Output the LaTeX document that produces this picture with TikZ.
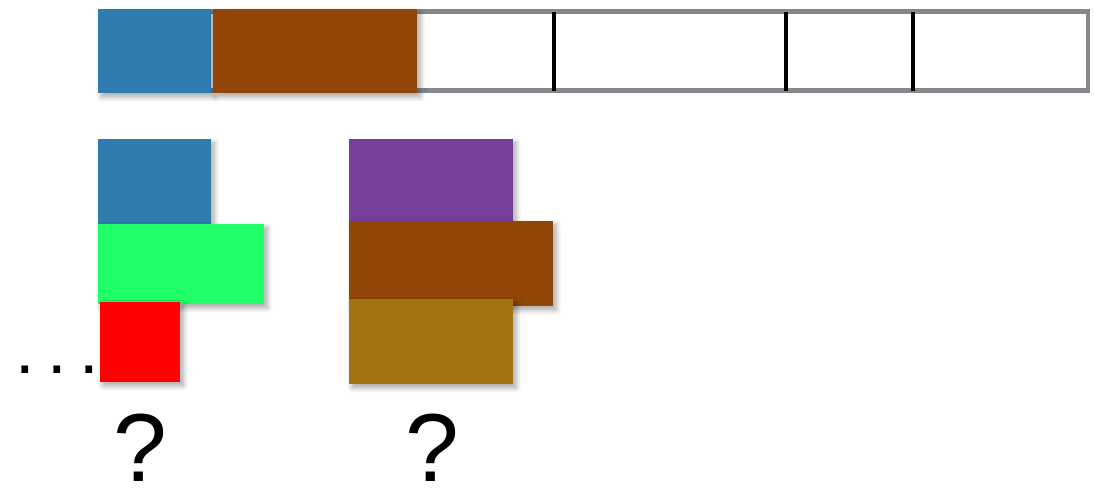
\documentclass[tikz,border=0pt]{standalone}
\usepackage{fontspec}
\setmainfont{Liberation Sans}
\usetikzlibrary{shadows.blur}
\definecolor{tileblue}{HTML}{2F7DAE}
\definecolor{tilebrown}{HTML}{914507}
\definecolor{tilegreen}{HTML}{1FFF67}
\definecolor{tilered}{HTML}{FF0000}
\definecolor{tilepurple}{HTML}{773F9B}
\definecolor{tilegold}{HTML}{A37411}
\definecolor{slotgray}{HTML}{85888C}
\tikzset{
  tile/.style={blur shadow={shadow xshift=1.8pt, shadow yshift=-2.2pt, shadow blur steps=8, shadow blur radius=3pt, shadow opacity=35}},
  biglabel/.style={font=\fontsize{55}{60}\selectfont, inner sep=0pt},
  dotlabel/.style={font=\fontsize{40}{44}\selectfont, inner sep=0pt}
}
\begin{document}
\begin{tikzpicture}[x=0.02cm, y=-0.02cm]
            \useasboundingbox (0,0) rectangle (1094,491);
            % Slot bar
            \draw[slotgray, line width=2.8pt] (100,11.5) rectangle (1088,90.5);
            \foreach \xs in {554, 786, 913}
              \draw[black, line width=2.8pt] (\xs,11.5) -- (\xs,90.5);
            
            % Tiles already placed in the bar
            \fill[tileblue, tile]  (98,9)  rectangle (211,93);
            \fill[tilebrown, tile] (213,9) rectangle (417,93);
            
            % Left stack
            \fill[tileblue, tile]  (98,139)  rectangle (211,224);
            \fill[tilegreen, tile] (98,224)  rectangle (264,304);
            \fill[tilered, tile]   (100,302) rectangle (180,382);
            
            % Right stack
            \fill[tilepurple, tile] (349,139) rectangle (513,221);
            \fill[tilebrown, tile]  (349,221) rectangle (553,306);
            \fill[tilegold, tile]   (349,299) rectangle (513,384);
            
            % Labels
            \node[dotlabel, anchor=base] (dots) at (57,373) {.\kern7pt.\kern7pt.};
            \node[biglabel, anchor=base] (q1) at (140,481) {?};
            \node[biglabel, anchor=base] (q2) at (432,481) {?};
        \end{tikzpicture}
\end{document}
